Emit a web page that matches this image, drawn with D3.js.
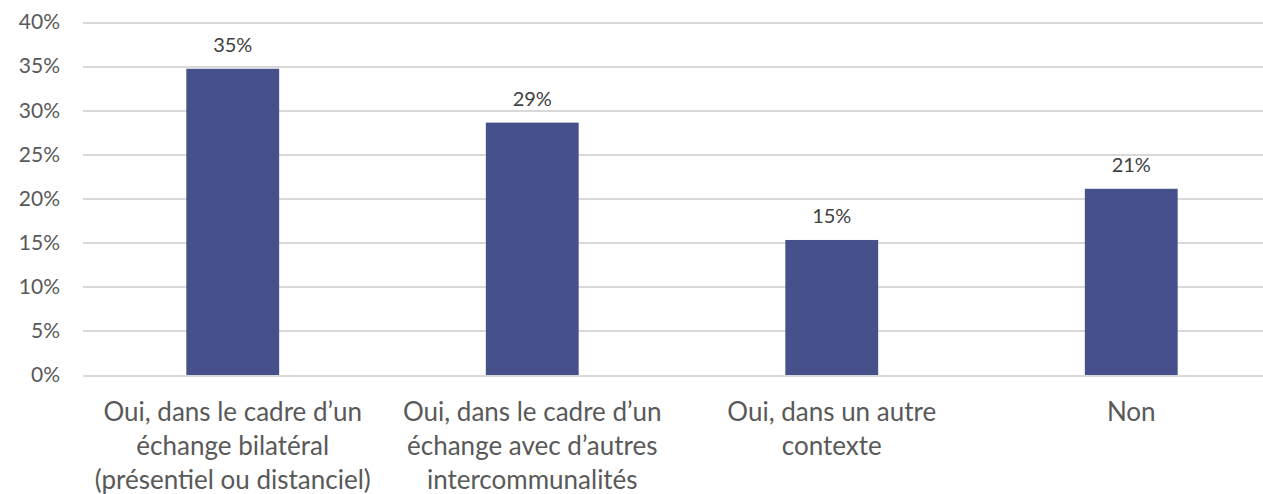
<!DOCTYPE html>
<meta charset="utf-8">
<style>
    body { margin: 0; background: #fff; }
    svg { display: block; font-family: "Lato", "Open Sans", sans-serif; }
    .grid line { stroke: #d9d9d9; stroke-width: 2; shape-rendering: crispEdges; }
    .grid path { display: none; }
    .y text { fill: #595959; font-size: 21px; }
    .x text { fill: #595959; font-size: 26px; }
    .label { fill: #404040; font-size: 20px; }
</style>
<body>
<script src="https://d3js.org/d3.v7.min.js"></script>
<script>
    var categories = [
        ["Oui, dans le cadre d\u2019un", "\u00e9change bilat\u00e9ral", "(pr\u00e9sentiel ou distanciel)"],
        ["Oui, dans le cadre d\u2019un", "\u00e9change avec d\u2019autres", "intercommunalit\u00e9s"],
        ["Oui, dans un autre", "contexte"],
        ["Non"]
    ];
    var values = [34.7, 28.6, 15.3, 21.1];
    var labels = ["35%", "29%", "15%", "21%"];
    var yTicks = [0, 5, 10, 15, 20, 25, 30, 35, 40];

    var width = 1263, height = 494;

    var svg = d3.select("body").append("svg")
        .attr("width", width)
        .attr("height", height);

    // plot runs past the right edge, like the cropped original
    var x = d3.scaleBand()
        .domain(d3.range(values.length))
        .range([83, 1281])
        .paddingInner(0.69)
        .paddingOuter(0.345);

    var y = d3.scaleLinear()
        .domain([0, 40])
        .range([375, 22]);

    svg.append("g")
        .attr("class", "grid")
        .attr("transform", "translate(83,0)")
        .call(d3.axisRight(y).tickValues(yTicks).tickSize(1200).tickFormat(""));

    svg.append("g")
        .attr("class", "y")
        .selectAll("text")
        .data(yTicks)
        .enter().append("text")
        .attr("x", 60)
        .attr("y", function(d) { return y(d); })
        .attr("dy", "0.35em")
        .attr("text-anchor", "end")
        .text(function(d) { return d + "%"; });

    svg.selectAll(".bar")
        .data(values)
        .enter().append("rect")
        .attr("class", "bar")
        .attr("x", function(d, i) { return x(i); })
        .attr("width", x.bandwidth())
        .attr("y", function(d) { return y(d); })
        .attr("height", function(d) { return y(0) - y(d); })
        .attr("fill", "#46518b");

    svg.selectAll(".label")
        .data(values)
        .enter().append("text")
        .attr("class", "label")
        .attr("x", function(d, i) { return x(i) + x.bandwidth() / 2; })
        .attr("y", function(d) { return y(d) - 17; })
        .attr("text-anchor", "middle")
        .text(function(d, i) { return labels[i]; });

    var xl = svg.append("g").attr("class", "x")
        .selectAll("text")
        .data(categories)
        .enter().append("text")
        .attr("text-anchor", "middle")
        .attr("x", function(d, i) { return x(i) + x.bandwidth() / 2; })
        .attr("y", 421);

    xl.selectAll("tspan")
        .data(function(d) { return d; })
        .enter().append("tspan")
        .attr("x", function() { return d3.select(this.parentNode).attr("x"); })
        .attr("dy", function(d, i) { return i === 0 ? 0 : 34; })
        .text(function(d) { return d; });
</script>
</body>
